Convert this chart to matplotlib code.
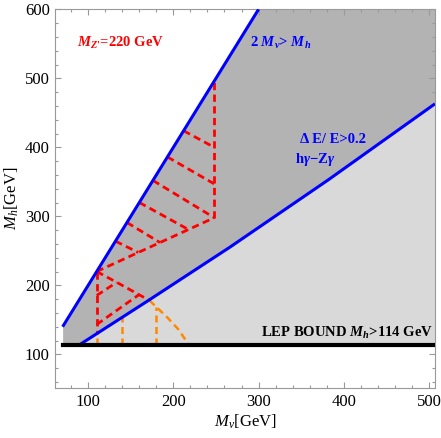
import matplotlib
matplotlib.use('Agg')
import matplotlib.pyplot as plt
from matplotlib.ticker import MultipleLocator

plt.rcParams.update({
    'font.family': ['Liberation Serif', 'DejaVu Serif'],
    'mathtext.fontset': 'custom',
    'mathtext.rm': 'Liberation Serif:bold',
    'mathtext.it': 'Liberation Serif:italic',
    'mathtext.bf': 'Liberation Serif:bold',
    'mathtext.bfit': 'Liberation Serif:italic:bold',
})

# ---------------- data (M_nu, M_h in GeV) ----------------
x_range = [61.4, 506.5]
y_range = [51.2, 600]

# constraint lines
upper_mnu = [70, 300]            # 2 M_nu > M_h boundary
upper_mh = [140, 600]
lower_mnu = [90, 170, 266, 382, 507]   # Delta E / E > 0.2 boundary
lower_mh = [114, 177.5, 255, 353, 463]
lep_mh = 114
lep_mnu = [70, 507]

# red region A (upper wedge)
a_vert_mnu = 248
a_vert_mh = [298, 496]
a_diag_mnu = [110, 248]
a_diag_mh = [220, 298]
a_hatch_mnu0 = [212, 193, 176, 160, 145.5, 132]
a_hatch_mh0 = [424, 386, 352, 320, 291, 264]
a_hatch_mnu1 = [248, 248, 248, 217.5, 184.3, 158.8]
a_hatch_mh1 = [400, 347, 298, 281, 262, 247.6]

# red region B (lower wedge)
b_vert_mnu = 110
b_vert_mh = [220, 130]
b_arc_mnu = [110, 134, 172]
b_arc_mh = [220, 204, 178]
b_hatch_mnu0 = [110, 110]
b_hatch_mh0 = [185.3, 143.2]
b_hatch_mnu1 = [133.3, 159.6]
b_hatch_mh1 = [204.2, 186.4]

# orange region
o_arc_mnu = [172, 184, 194, 206, 218]
o_arc_mh = [178, 164, 152, 136, 114]
o_vert_mnu = [110, 140, 180]
o_vert_top = [130, 154, 169]

x_major = [100, 200, 300, 400, 500]
y_major = [100, 200, 300, 400, 500, 600]

# ---------------- figure ----------------
fig = plt.figure(figsize=(4.41, 4.38), dpi=100)
ax = fig.add_axes([55.3 / 441, 1 - 388 / 438, (434.5 - 55.3) / 441, (388 - 9.3) / 438])
ax.set_xlim(*x_range)
ax.set_ylim(*y_range)

dark = '#b3b3b3'
light = '#d9d9d9'
red = '#ff0000'
orange = '#ff8800'
blue = '#0000ff'

# dark shaded region: between LEP bound and 2 M_nu = M_h
dark_x = upper_mnu + [x_range[1] + 5]
dark_top = upper_mh + [upper_mh[-1]]
ax.fill_between(dark_x, lep_mh, dark_top, color=dark, lw=0, zorder=1)
# light shaded region: below Delta E/E line
ax.fill_between(lower_mnu, lep_mh, lower_mh, color=light, lw=0, zorder=2)

rkw = dict(color=red, lw=2.0, dashes=(2.6, 1.6), zorder=3, solid_capstyle='butt', dash_capstyle='butt')
okw = dict(color=orange, lw=1.8, dashes=(2.8, 1.8), zorder=3, dash_capstyle='butt')

# region A
ax.plot([a_vert_mnu, a_vert_mnu], a_vert_mh, **rkw)
ax.plot(a_diag_mnu, a_diag_mh, **rkw)
for x0, y0, x1, y1 in zip(a_hatch_mnu0, a_hatch_mh0, a_hatch_mnu1, a_hatch_mh1):
    ax.plot([x0, x1], [y0, y1], **rkw)

# region B
ax.plot([b_vert_mnu, b_vert_mnu], b_vert_mh, **rkw)
ax.plot(b_arc_mnu, b_arc_mh, **rkw)
for x0, y0, x1, y1 in zip(b_hatch_mnu0, b_hatch_mh0, b_hatch_mnu1, b_hatch_mh1):
    ax.plot([x0, x1], [y0, y1], **rkw)

# orange region
ax.plot(o_arc_mnu, o_arc_mh, **okw)
for xv, yt in zip(o_vert_mnu, o_vert_top):
    ax.plot([xv, xv], [lep_mh, yt], **okw)

# boundary lines
ax.plot(upper_mnu, upper_mh, color=blue, lw=2.2, zorder=5, solid_capstyle='butt')
ax.plot(lower_mnu, lower_mh, color=blue, lw=2.2, zorder=5, solid_capstyle='butt',
        solid_joinstyle='round')
ax.plot(lep_mnu, [lep_mh, lep_mh], color='black', lw=3.0, zorder=6, solid_capstyle='projecting')

# texts
tfs = 10.5
ax.text(86.5, 550.7, r"$\mathbfit{M}_{\mathbfit{Z}\text{'}}$=220 GeV", color=red, fontsize=tfs,
        fontweight='bold', ha='left', va='center', zorder=7)
ax.text(290, 550.7, r"2 $\mathbfit{M}_{\mathbfit{\nu}}$> $\mathbfit{M}_{\mathbfit{h}}$", color=blue,
        fontsize=tfs, fontweight='bold', ha='left', va='center', zorder=7)
ax.text(348.6, 410.6, "Δ E/ E>0.2", color=blue, fontsize=tfs, fontweight='bold',
        ha='left', va='center', zorder=7)
ax.text(342.7, 382.6, r"h$\mathbfit{\gamma}$−Z$\mathbfit{\gamma}$", color=blue, fontsize=tfs,
        fontweight='bold', ha='left', va='center', zorder=7)
ax.text(504.4, 131.5, r"LEP BOUND $\mathbfit{M}_{\mathbfit{h}}$>114 GeV", color='black',
        fontsize=tfs, fontweight='bold', ha='right', va='center', zorder=7)

# axes styling
frame = '#999999'
for s in ax.spines.values():
    s.set_color(frame)
    s.set_linewidth(0.8)
ax.set_xticks(x_major)
ax.set_yticks(y_major)
ax.xaxis.set_minor_locator(MultipleLocator(20))
ax.yaxis.set_minor_locator(MultipleLocator(20))
ax.tick_params(which='both', direction='in', top=True, right=True, color=frame, width=0.8)
ax.tick_params(which='major', length=4, labelsize=12, pad=4)
ax.tick_params(which='minor', length=2.4)
ax.set_xlabel(r"$M_{\nu}$[GeV]", fontsize=12, labelpad=2)
ax.set_ylabel(r"$M_{h}$[GeV]", fontsize=12, labelpad=3)
for lbl in ax.get_xticklabels() + ax.get_yticklabels():
    lbl.set_fontweight('normal')
ax.xaxis.label.set_fontweight('normal')

fig.savefig('out.png', dpi=100)
